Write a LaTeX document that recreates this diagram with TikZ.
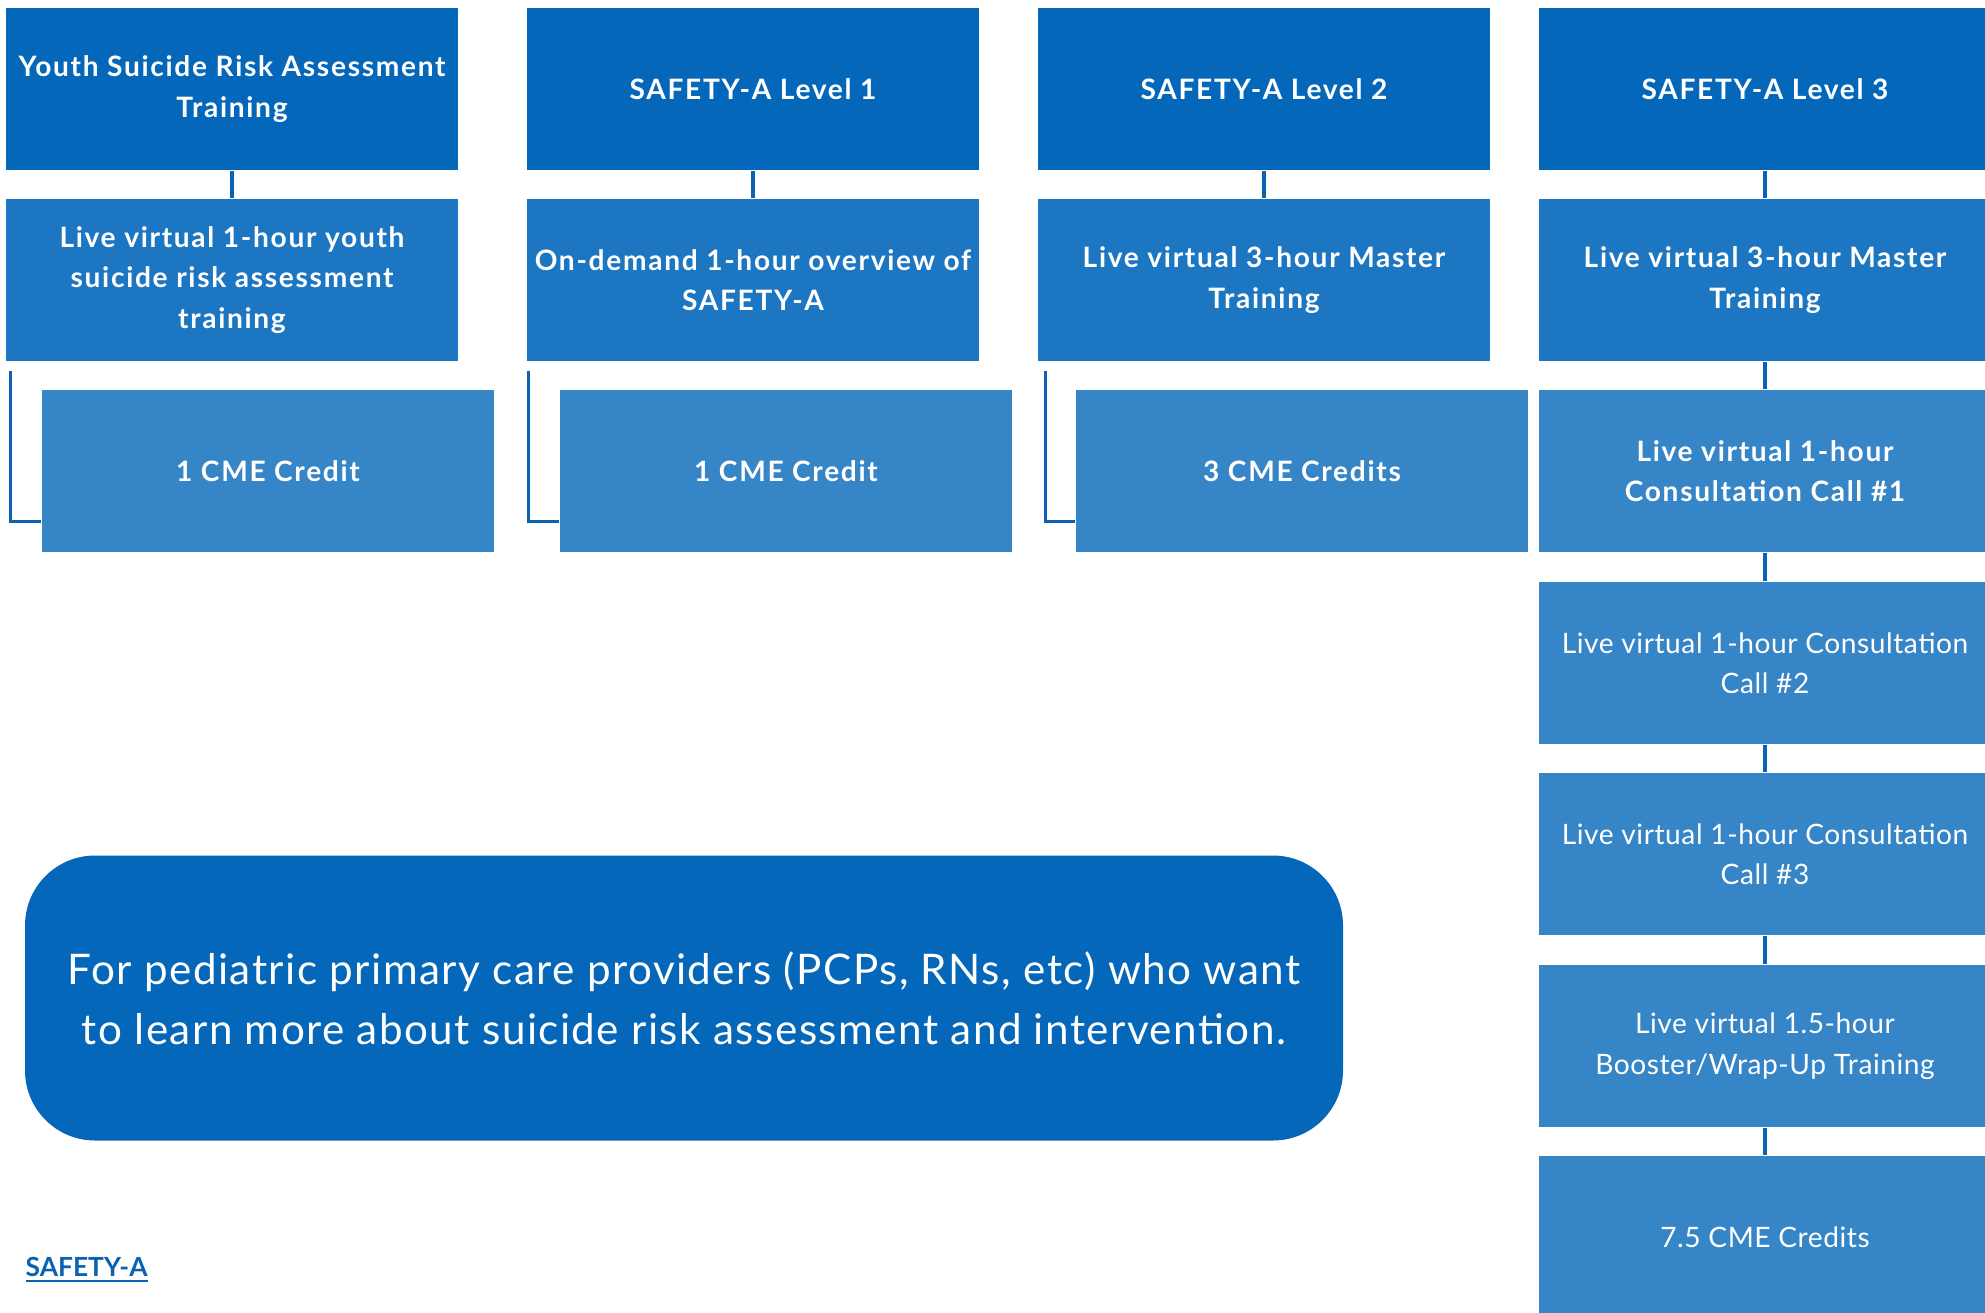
\documentclass[tikz,border=0pt]{standalone}
\usepackage{fontspec}
\setmainfont{Lato}
\newfontfamily\boxboldfont{Lato}[LetterSpace=6]
\newfontfamily\boxplainfont{Lato}[LetterSpace=2]
\newfontfamily\notefont{Lato}[LetterSpace=3.5]
\usetikzlibrary{positioning}
\usetikzlibrary{calc}
\usepackage{xcolor}

\definecolor{deepblue}{HTML}{0467B9}
\definecolor{midblue}{HTML}{1C76C2}
\definecolor{softblue}{HTML}{3585C7}
\definecolor{linkblue}{HTML}{0A62B0}

\begin{document}
\begin{tikzpicture}[x=0.1mm, y=-0.1mm]
    % ================= styles =================
    \tikzset{
        % top level boxes
        headbox/.style={rectangle, fill=deepblue, text=white, minimum width=45.2mm, minimum height=16.2mm, inner sep=0pt, align=center, font=\boxboldfont\bfseries\fontsize{8}{11.5}\selectfont},
        % second row boxes
        stepbox/.style={headbox, fill=midblue},
        % credit / call boxes
        creditbox/.style={headbox, fill=softblue},
        plainbox/.style={creditbox, font=\boxplainfont\fontsize{8}{11.5}\selectfont},
        % rounded note
        notebox/.style={rectangle, rounded corners=7mm, fill=deepblue, text=white, minimum width=131.8mm, minimum height=28.5mm, align=center, font=\notefont\fontsize{12}{17}\selectfont},
        % connectors
        link_line/.style={line width=1pt, linkblue}
    }

    \clip (0,0) rectangle (1985,1313);

    % ================= column 1 =================
    \node[headbox] (youth) at (232,89) {Youth Suicide Risk Assessment\\Training};
    \node[stepbox] (youthlive) at (232,280) {Live virtual 1-hour youth\\suicide risk assessment\\training};
    \node[creditbox] (cmeA) at (268,471) {1 CME Credit};

    % ================= column 2 =================
    \node[headbox] (lvlA) at (753,89) {SAFETY-A Level 1};
    \node[stepbox] (lvlAdemand) at (753,280) {On-demand 1-hour overview of\\SAFETY-A};
    \node[creditbox] (cmeB) at (786,471) {1 CME Credit};

    % ================= column 3 =================
    \node[headbox] (lvlB) at (1264,89) {SAFETY-A Level 2};
    \node[stepbox] (lvlBmaster) at (1264,280) {Live virtual 3-hour Master\\Training};
    \node[creditbox] (cmeC) at (1302,471) {3 CME Credits};

    % ================= column 4 =================
    \node[headbox] (lvlC) at (1765,89) {SAFETY-A Level 3};
    \node[stepbox] (lvlCmaster) at (1765,280) {Live virtual 3-hour Master\\Training};
    \node[creditbox] (callA) at (1765,471) {Live virtual 1-hour\\Consultation Call \#1};
    \node[plainbox] (callB) at (1765,663) {Live virtual 1-hour Consultation\\Call \#2};
    \node[plainbox] (callC) at (1765,854) {Live virtual 1-hour Consultation\\Call \#3};
    \node[plainbox] (booster) at (1765,1046) {Live virtual 1.5-hour\\Booster/Wrap-Up Training};
    \node[plainbox] (cmeD) at (1765,1237) {7.5 CME Credits};

    % ================= connectors =================
    \draw[link_line] (youth) -- (youthlive);
    \draw[link_line] (lvlA) -- (lvlAdemand);
    \draw[link_line] (lvlB) -- (lvlBmaster);
    \draw[link_line] (lvlC) -- (lvlCmaster);
    \draw[link_line] (lvlCmaster) -- (callA);
    \draw[link_line] (callA) -- (callB);
    \draw[link_line] (callB) -- (callC);
    \draw[link_line] (callC) -- (booster);
    \draw[link_line] (booster) -- (cmeD);

    % L-shaped links into the credit boxes
    \coordinate (elbowA) at ($(youthlive.south west)+(5,9)$);
    \coordinate (elbowB) at ($(lvlAdemand.south west)+(2,9)$);
    \coordinate (elbowC) at ($(lvlBmaster.south west)+(8,9)$);
    \draw[link_line] (elbowA) |- ([yshift=3.1mm]cmeA.south west);
    \draw[link_line] (elbowB) |- ([yshift=3.1mm]cmeB.south west);
    \draw[link_line] (elbowC) |- ([yshift=3.1mm]cmeC.south west);

    % ================= note and link =================
    \node[notebox] (note) at (684,998) {For pediatric primary care providers (PCPs, RNs, etc) who want\\to learn more about suicide risk assessment and intervention.};
    \node[anchor=west, text=linkblue, inner sep=0pt, font=\bfseries\fontsize{7.5}{9}\selectfont] (safety) at (25,1270) {\underline{SAFETY-A}};

\end{tikzpicture}
\end{document}
